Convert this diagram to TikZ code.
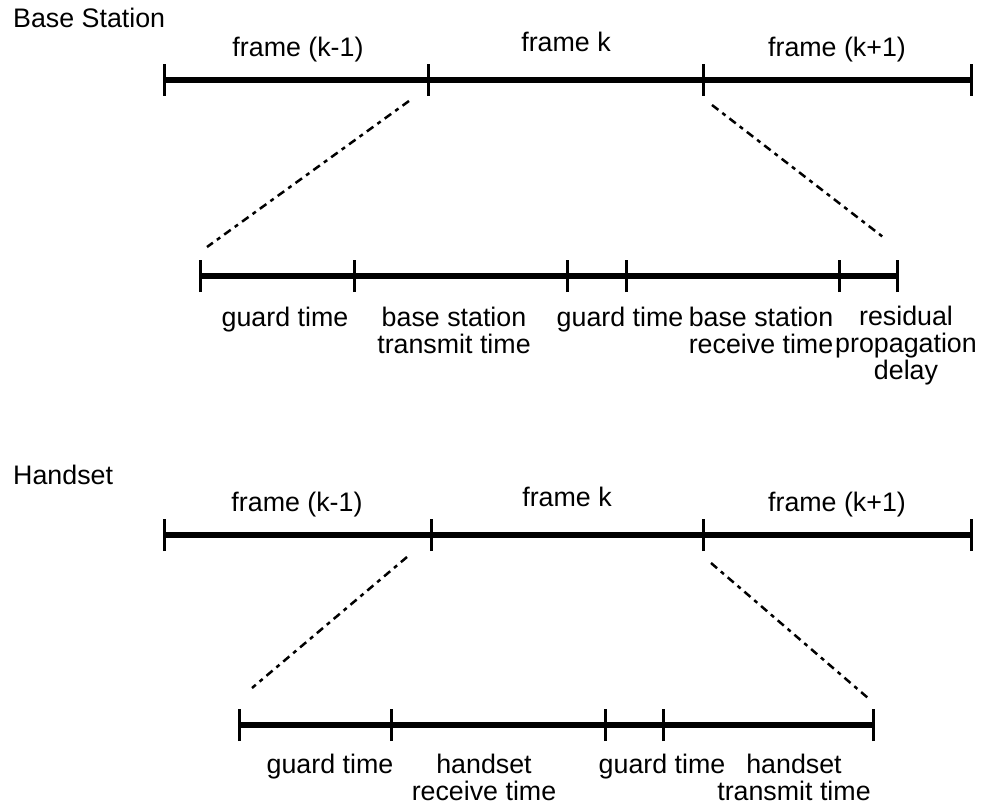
\documentclass[tikz,border=0pt]{standalone}
\usepackage{fontspec}
\setmainfont{Liberation Sans}
\newcommand{\mylines}[1]{\begin{tabular}[t]{@{}c@{}}#1\end{tabular}}
\begin{document}
\begin{tikzpicture}[x=1pt,y=-1pt,
  lbl/.style={anchor=base, inner sep=0pt, font=\fontsize{26.8}{26.5}\selectfont},
  bar/.style={line width=5.5pt},
  tickmark/.style={line width=3pt},
  zoomline/.style={line width=2.5pt, dash pattern=on 8pt off 5pt on 4pt off 5pt}]
\useasboundingbox (0,0) rectangle (984,810);

% ---------- Base Station ----------
\node[lbl, anchor=base west] (bslabel) at (13,28) {Base Station};

\coordinate (t0) at (164,80);
\coordinate (t1) at (428,80);
\coordinate (t2) at (703,80);
\coordinate (t3) at (971,80);
\draw[bar] (t0) -- (t3);
\foreach \c in {t0,t1,t2,t3} \draw[tickmark] ([yshift=-16pt]\c) -- ([yshift=16pt]\c);

\node[lbl] (tf1) at (298,57) {frame (k-1)};
\node[lbl] (tf2) at (566,52) {frame k};
\node[lbl] (tf3) at (837,57) {frame (k+1)};

\coordinate (s0) at (200,276);
\coordinate (s1) at (354,276);
\coordinate (s2) at (567,276);
\coordinate (s3) at (626,276);
\coordinate (s4) at (839,276);
\coordinate (s5) at (897,276);
\draw[bar] (s0) -- (s5);
\foreach \c in {s0,s1,s2,s3,s4,s5} \draw[tickmark] ([yshift=-16pt]\c) -- ([yshift=16pt]\c);

\coordinate (da) at (409,101);
\coordinate (db) at (207,247);
\coordinate (dc) at (712,105);
\coordinate (dd) at (883,237);
\draw[zoomline] (da) -- (db);
\draw[zoomline] (dc) -- (dd);

\node[lbl] (sl1) at (285,326) {guard time};
\node[lbl] (sl2) at (454,326) {\mylines{base station\\transmit time}};
\node[lbl] (sl3) at (620,326) {guard time};
\node[lbl] (sl4) at (761,326) {\mylines{base station\\receive time}};
\node[lbl] (sl5) at (906,325) {\mylines{residual\\propagation\\delay}};

% ---------- Handset ----------
\node[lbl, anchor=base west] (hslabel) at (13,484) {Handset};

\coordinate (u0) at (164,535);
\coordinate (u1) at (431,535);
\coordinate (u2) at (703,535);
\coordinate (u3) at (971,535);
\draw[bar] (u0) -- (u3);
\foreach \c in {u0,u1,u2,u3} \draw[tickmark] ([yshift=-16pt]\c) -- ([yshift=16pt]\c);

\node[lbl] (uf1) at (297,511) {frame (k-1)};
\node[lbl] (uf2) at (567,506) {frame k};
\node[lbl] (uf3) at (837,511) {frame (k+1)};

\coordinate (v0) at (239,725);
\coordinate (v1) at (391,725);
\coordinate (v2) at (605,725);
\coordinate (v3) at (663,725);
\coordinate (v4) at (873,725);
\draw[bar] (v0) -- (v4);
\foreach \c in {v0,v1,v2,v3,v4} \draw[tickmark] ([yshift=-16pt]\c) -- ([yshift=16pt]\c);

\coordinate (ea) at (407,557);
\coordinate (eb) at (252,688);
\coordinate (ec) at (711,563);
\coordinate (ed) at (868,698);
\draw[zoomline] (ea) -- (eb);
\draw[zoomline] (ec) -- (ed);

\node[lbl] (vl1) at (330,773) {guard time};
\node[lbl] (vl2) at (484,773) {\mylines{handset\\receive time}};
\node[lbl] (vl3) at (662,773) {guard time};
\node[lbl] (vl4) at (794,773) {\mylines{handset\\transmit time}};
\end{tikzpicture}
\end{document}
